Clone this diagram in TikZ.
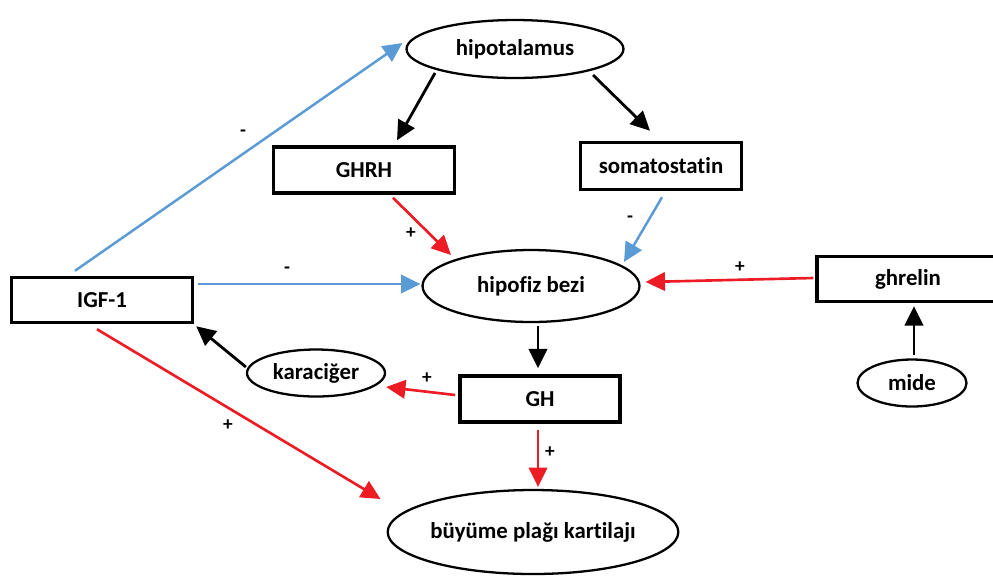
\documentclass[tikz,border=0pt]{standalone}
\usepackage{fontspec}
\setmainfont[Ligatures=NoCommon, RawFeature={-liga}]{Carlito}
\usepackage{xcolor}
\usetikzlibrary{arrows.meta, positioning, shapes.geometric, calc}
\definecolor{inhib}{HTML}{5B9BD5}
\definecolor{stim}{HTML}{ED1C24}

\begin{document}
\begin{tikzpicture}[x=0.02cm, y=-0.02cm, >={Triangle[length=11pt,width=10.5pt]},
  font=\bfseries\fontsize{13}{15}\selectfont,
  organ/.style={ellipse, draw, line width=1.3pt, inner sep=0pt},
  hormone/.style={rectangle, draw, line width=2pt, inner sep=0pt},
  plus/.style={->, stim, line width=1.5pt},
  minus/.style={->, inhib, line width=1.4pt},
  plain/.style={->, black, line width=1.6pt},
  sign/.style={font=\bfseries\fontsize{11}{12}\selectfont, inner sep=0pt}]
  \useasboundingbox (0,0) rectangle (993,576);

  % Organlar
  \node[organ, minimum width=4.34cm, minimum height=1.16cm] (hipo) at (515,49) {hipotalamus};
  \node[organ, minimum width=4.34cm, minimum height=1.44cm] (hipofiz) at (531,286) {hipofiz bezi};
  \node[organ, minimum width=2.76cm, minimum height=0.94cm] (kara) at (316,373) {karaciğer};
  \node[organ, minimum width=2.18cm, minimum height=0.94cm] (mide) at (912,383) {mide};
  \node[organ, minimum width=5.48cm, minimum height=1.68cm] (buyume) at (533,532) {büyüme plağı kartilajı};

  % Hormonlar
  \node[hormone, minimum width=3.62cm, minimum height=0.92cm] (ghrh) at (364,170) {GHRH};
  \node[hormone, minimum width=3.22cm, minimum height=0.94cm] (soma) at (661,166) {somatostatin};
  \node[hormone, minimum width=3.64cm, minimum height=0.90cm] (ghrelin) at (908,279) {ghrelin};
  \node[hormone, minimum width=3.62cm, minimum height=0.90cm] (igf) at (102,300) {IGF-1};
  \node[hormone, minimum width=3.20cm, minimum height=0.92cm] (gh) at (540,399) {GH};

  % Hipotalamus oklari
  \draw[plain] ($(hipo)+(-80,24)$) -- ($(ghrh.north)+(33,-5)$);
  \draw[plain] ($(hipo)+(78,26)$) -- ($(soma.north)+(-11,-10)$);

  % Hipofize gelenler
  \draw[plus] ($(ghrh.south)+(29,3)$) -- ($(hipofiz)+(-80,-31)$);
  \draw[minus] ($(soma.south)+(1,6)$) -- ($(hipofiz)+(93,-24)$);
  \draw[minus] ($(igf.east)+(4,-16)$) -- ($(hipofiz.west)+(-1,-2)$);
  \draw[plus] ($(ghrelin.west)+(-2,-1)$) -- ($(hipofiz.east)+(5,-4)$);
  \draw[plain] ($(mide.north)+(2,-3)$) -- ($(ghrelin.south)+(6,3)$);

  % GH ve IGF-1
  \draw[plain] ($(hipofiz.south)+(7,3)$) -- ($(gh.north)+(-2,-6)$);
  \draw[plus] ($(gh.west)+(-3,-4)$) -- ($(kara.east)+(0,14)$);
  \draw[plain] ($(kara.west)+(0,-6)$) -- ($(igf.south east)+(2,2)$);
  \draw[plus] ($(gh.south)+(-2,6)$) -- ($(buyume.north)+(5,-2)$);
  \draw[plus] ($(igf.south)+(-5,5)$) -- ($(buyume.west)+(-6,-33)$);
  \draw[minus] ($(igf.north)+(-27,-5)$) -- ($(hipo.west)+(-3,-6)$);

  % Isaretler
  \node[sign] (s1) at (243,133) {-};
  \node[sign] (s2) at (287,270) {-};
  \node[sign] (s3) at (411,233) {+};
  \node[sign] (s4) at (630,219) {-};
  \node[sign] (s5) at (740,267) {+};
  \node[sign] (s6) at (427,378) {+};
  \node[sign] (s7) at (550,452) {+};
  \node[sign] (s8) at (228,425) {+};
\end{tikzpicture}
\end{document}
